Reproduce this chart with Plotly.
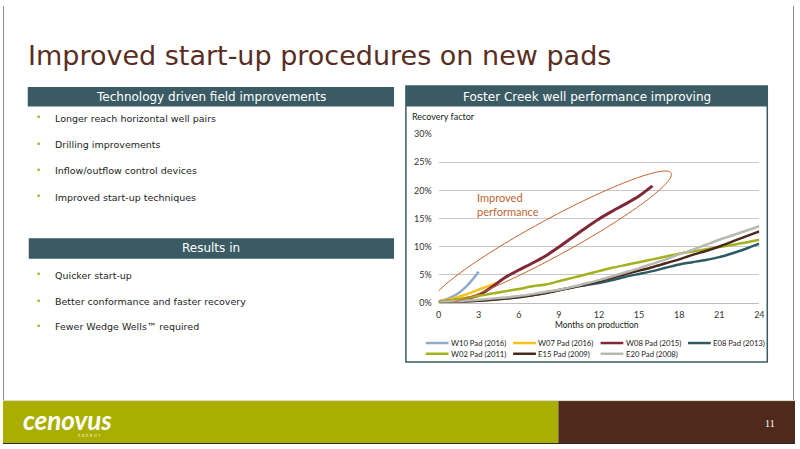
import numpy as np
import plotly.graph_objects as go

W, H = 800, 449


def px(x):
    return x / W


def py(y):
    return 1 - y / H


# ---------------- data ----------------
series_names = ["W10 Pad (2016)", "W07 Pad (2016)", "W08 Pad (2015)", "E08 Pad (2013)",
                "W02 Pad (2011)", "E15 Pad (2009)", "E20 Pad (2008)"]
series_colors = ["#8eaacb", "#f7c21a", "#7e2838", "#2d5a63",
                 "#a3b21c", "#4a291c", "#b9b9b1"]

months_w10 = [0, 0.5, 1, 1.5, 2, 2.5, 3]
rf_w10 = [0.2, 0.5, 1.0, 1.7, 2.7, 4.0, 5.5]

months_w07 = [0, 1, 2, 3, 4, 4.5]
rf_w07 = [0.2, 0.7, 1.4, 2.3, 3.2, 3.7]

months_w08 = list(range(0, 17))
rf_w08 = [0.1, 0.35, 0.7, 1.3, 2.8, 4.5, 5.8, 7.0, 8.3, 9.9, 11.6, 13.3, 14.9, 16.3, 17.6, 19.0, 20.8]

months_long = list(range(0, 25))
rf_e08 = [0.0, 0.05, 0.15, 0.3, 0.5, 0.7, 0.95, 1.3, 1.7, 2.2, 2.7, 3.1, 3.5, 4.0, 4.6, 5.1,
          5.6, 6.2, 6.8, 7.2, 7.6, 8.1, 8.8, 9.6, 10.5]
rf_w02 = [0.1, 0.4, 0.8, 1.2, 1.6, 2.0, 2.4, 2.9, 3.2, 3.8, 4.4, 5.0, 5.6, 6.2, 6.7, 7.2,
          7.7, 8.2, 8.7, 9.1, 9.5, 9.9, 10.3, 10.7, 11.2]
rf_e15 = [0.0, 0.05, 0.15, 0.3, 0.5, 0.7, 1.0, 1.3, 1.7, 2.2, 2.7, 3.2, 3.8, 4.4, 5.1, 5.7,
          6.3, 7.0, 7.7, 8.5, 9.2, 10.0, 10.9, 11.8, 12.7]
rf_e20 = [0.1, 0.2, 0.35, 0.5, 0.7, 0.9, 1.15, 1.5, 1.9, 2.3, 2.8, 3.4, 4.0, 4.7, 5.4, 6.1,
          6.9, 7.7, 8.6, 9.4, 10.3, 11.2, 12.0, 12.8, 13.6]

series_x = [months_w10, months_w07, months_w08, months_long, months_long, months_long, months_long]
series_y = [rf_w10, rf_w07, rf_w08, rf_e08, rf_w02, rf_e15, rf_e20]
series_width = [2.5, 2.5, 3, 2.5, 2.5, 2.5, 2.5]

x_ticks = [0, 3, 6, 9, 12, 15, 18, 21, 24]
y_ticks = [0, 5, 10, 15, 20, 25, 30]
y_tick_labels = ["0%", "5%", "10%", "15%", "20%", "25%", "30%"]

bullets_top = ["Longer reach horizontal well pairs", "Drilling improvements",
               "Inflow/outflow control devices", "Improved start-up techniques"]
bullets_bottom = ["Quicker start-up", "Better conformance and faster recovery",
                  "Fewer Wedge Wells\u2122 required"]

# ---------------- figure ----------------
fig = go.Figure()
for name, color, xs, ys, lw in zip(series_names, series_colors, series_x, series_y, series_width):
    fig.add_trace(go.Scatter(x=xs, y=ys, name=name, mode="lines",
                             line=dict(color=color, width=lw, shape="spline", smoothing=0.6),
                             cliponaxis=False, showlegend=False))

TEAL = "#3b5b64"
BODY_FONT = "DejaVu Sans"
CHART_FONT = "Lato"

# plot area geometry (pixel positions on the slide)
X0, X1 = 440, 764
Y0, Y1 = 304, 131.5

# ellipse highlighting the improved pads (in data units)
e_center = (8.45, 11.5)
e_major = (8.95, 11.6)
e_minor = (0.68, -2.88)
t = np.linspace(0, 2 * np.pi, 140)
ex = e_center[0] + np.cos(t) * e_major[0] + np.sin(t) * e_minor[0]
ey = e_center[1] + np.cos(t) * e_major[1] + np.sin(t) * e_minor[1]
ellipse_path = "M " + " L ".join(f"{a:.3f},{b:.3f}" for a, b in zip(ex, ey)) + " Z"


def prect(x0, y0, x1, y1, **kw):
    return dict(type="rect", xref="paper", yref="paper", x0=px(x0), x1=px(x1),
                y0=py(y1), y1=py(y0), **kw)


def pline(x0, y0, x1, y1, color, width):
    return dict(type="line", xref="paper", yref="paper", x0=px(x0), x1=px(x1),
                y0=py(y0), y1=py(y1), line=dict(color=color, width=width))


shapes = [
    pline(0.5, 0, 0.5, 405, "#8a8a8a", 1),
    pline(798.5, 0, 798.5, 405, "#8a8a8a", 1),
    prect(25, 83, 395, 103, fillcolor=TEAL, line=dict(width=0), layer="below"),
    prect(26, 238, 395, 259, fillcolor=TEAL, line=dict(width=0), layer="below"),
    prect(407, 82, 772, 103, fillcolor=TEAL, line=dict(width=0), layer="below"),
    prect(407, 82, 772, 365, fillcolor="rgba(0,0,0,0)", line=dict(color=TEAL, width=1.5),
          layer="below"),
    prect(0, 405, 561, 449, fillcolor="#a9ae00", line=dict(width=0), layer="below"),
    prect(561, 405, 800, 449, fillcolor="#4f2a1c", line=dict(width=0), layer="below"),
    pline(0, 404.5, 800, 404.5, "#d9d9c4", 1),
    pline(0, 448.5, 800, 448.5, "#2a2a2a", 1),
    dict(type="path", xref="x", yref="y", path=ellipse_path,
         line=dict(color="#c8602a", width=1), fillcolor="rgba(0,0,0,0)", layer="above"),
]


def ptext(text, x, y, size, color, family=BODY_FONT, xanchor="left", **kw):
    return dict(text=text, xref="paper", yref="paper", x=px(x), y=py(y), xanchor=xanchor,
                yanchor="middle", showarrow=False,
                font=dict(family=family, size=size, color=color), **kw)


annotations = [
    ptext("Improved start-up procedures on new pads", 23, 51, 27, "#5a2e1f"),
    ptext("Technology driven field improvements", 210, 93.5, 12, "white", xanchor="center"),
    ptext("Results in", 210.5, 248.5, 12, "white", xanchor="center"),
    ptext("Foster Creek well performance improving", 589.5, 93, 12, "white", xanchor="center"),
    ptext("Recovery factor", 411, 113, 9, "#222222", family=CHART_FONT),
    ptext("Months on production", 600, 327, 8.5, "#222222", family=CHART_FONT, xanchor="center"),
    ptext("Improved<br>performance", 477, 203.5, 11, "#c0622f", family=CHART_FONT, align="left"),
    ptext("<b><i>cenovus</i></b>", 18, 424, 26, "white", family="Lato"),
    ptext("E N E R G Y", 87, 440.5, 4, "#f0f0d0", xanchor="center"),
    ptext("11", 775, 428, 10, "white", family="Liberation Serif", xanchor="center"),
]

for txt, yy in zip(bullets_top + bullets_bottom, [115, 142, 169, 196, 276, 303, 329]):
    annotations.append(ptext("\u2022", 36, yy - 1, 9, "#a4b21a", xanchor="center"))
    annotations.append(ptext(txt, 50, yy, 9.5, "#1e1e1e"))

# legend drawn as line samples + labels from the series lists
for i, (name, color) in enumerate(zip(series_names, series_colors)):
    row, col = divmod(i, 4)
    lx = 427 + col * 88.3
    ly = 345.5 + row * 11
    shapes.append(pline(lx, ly, lx + 23, ly, color, 2.5))
    annotations.append(ptext(name, lx + 23.5, ly, 7.7, "#222222", family=CHART_FONT))

fig.update_layout(
    width=W, height=H, margin=dict(l=0, r=0, t=0, b=0),
    paper_bgcolor="white", plot_bgcolor="rgba(0,0,0,0)",
    xaxis=dict(domain=[px(X0), px(X1)], range=[0, 24], tickvals=x_ticks,
               showgrid=False, zeroline=False, showline=True, linecolor="#bdbdbd", linewidth=1,
               ticks="", ticklabelstandoff=4,
               tickfont=dict(family=CHART_FONT, size=9, color="#333333"), fixedrange=True),
    yaxis=dict(domain=[py(Y0), py(Y1)], range=[0, 30], tickvals=y_ticks, ticktext=y_tick_labels,
               showgrid=True, gridcolor="#c8c8c8", gridwidth=1, zeroline=False, showline=False,
               ticks="", ticklabelstandoff=6,
               tickfont=dict(family=CHART_FONT, size=9, color="#333333"), fixedrange=True),
    shapes=shapes,
    annotations=annotations,
    showlegend=False,
)

post = (
    "document.documentElement.style.margin='0';document.body.style.margin='0';"
    "document.body.style.overflow='hidden';"
)

fig.write_html("out.html", config={"displayModeBar": False}, post_script=post)
